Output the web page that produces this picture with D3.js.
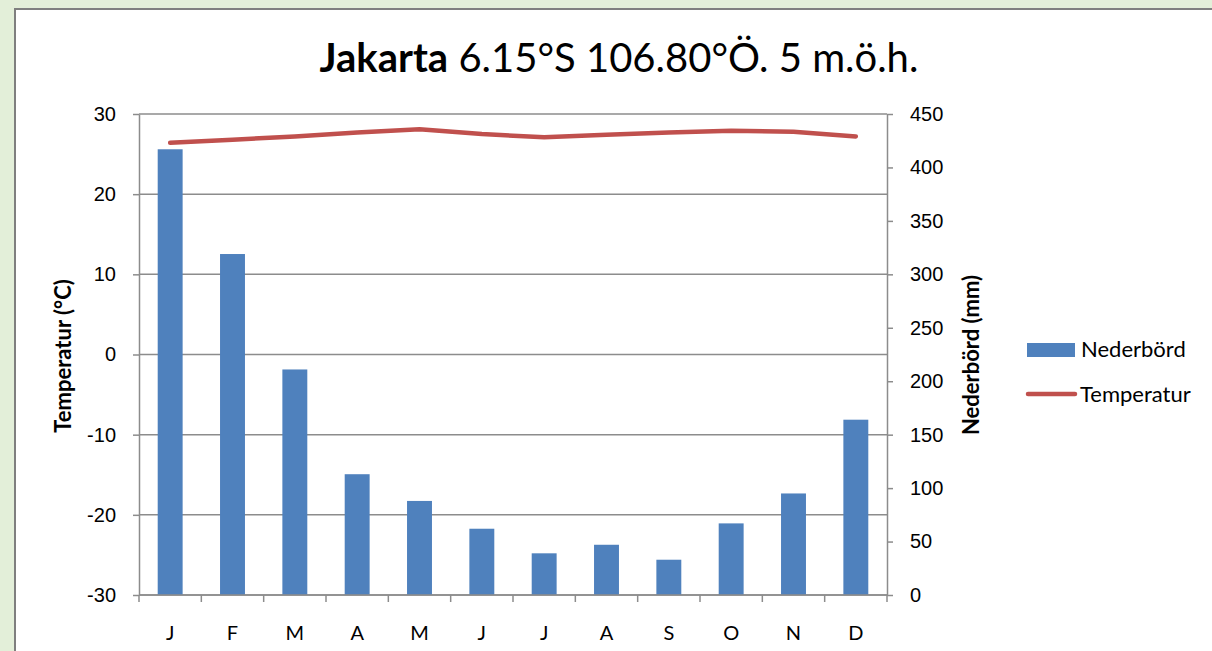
<!DOCTYPE html>
<html>
<head>
<meta charset="utf-8">
<script src="https://cdn.jsdelivr.net/npm/d3@7"></script>
<style>
  html, body { margin: 0; padding: 0; background: #e3efd9; }
  svg { display: block; font-family: Lato, "Open Sans", sans-serif; }
</style>
</head>
<body>
<div id="chart"></div>
<script>
const months = ["J", "F", "M", "A", "M", "J", "J", "A", "S", "O", "N", "D"];
const nederbord = [417, 319, 211, 113, 88, 62, 39, 47, 33, 67, 95, 164];
const temperatur = [26.4, 26.8, 27.2, 27.7, 28.1, 27.5, 27.1, 27.4, 27.7, 27.9, 27.8, 27.2];
const tempTicks = [-30, -20, -10, 0, 10, 20, 30];
const precTicks = [0, 50, 100, 150, 200, 250, 300, 350, 400, 450];

const W = 1212, H = 651;
const margin = {top: 114, right: 325, bottom: 56, left: 139},
      width = W - margin.left - margin.right,
      height = H - margin.top - margin.bottom;

const root = d3.select("#chart")
               .append("svg")
               .attr("width", W)
               .attr("height", H);

// white panel with grey border
root.append("rect")
    .attr("x", 15).attr("y", 9)
    .attr("width", W).attr("height", H)
    .attr("fill", "#fff")
    .attr("stroke", "#7f7f7f")
    .attr("stroke-width", 2);

root.append("text")
    .attr("x", 619)
    .attr("y", 72)
    .attr("text-anchor", "middle")
    .style("font-size", "40px")
    .attr("fill", "#000")
    .call(t => {
      t.append("tspan").style("font-weight", "bold").text("Jakarta");
      t.append("tspan").text(" 6.15°S 106.80°Ö. 5 m.ö.h.");
    });

const svg = root.append("g")
                .attr("transform", `translate(${margin.left},${margin.top})`);

const x = d3.scaleBand()
            .domain(d3.range(months.length))
            .range([0, width])
            .paddingInner(0.6)
            .paddingOuter(0.3);

const xb = d3.scaleBand()
             .domain(d3.range(months.length))
             .range([0, width]);

const yL = d3.scaleLinear().domain([-30, 30]).range([height, 0]);
const yR = d3.scaleLinear().domain([0, 450]).range([height, 0]);

// gridlines
svg.append("g")
   .selectAll("line")
   .data(tempTicks)
   .enter()
   .append("line")
   .attr("x1", 0).attr("x2", width)
   .attr("y1", d => yL(d)).attr("y2", d => yL(d))
   .attr("stroke", "#8c8c8c")
   .attr("stroke-width", 1.5);

// bars
svg.selectAll(".bar")
   .data(nederbord)
   .enter()
   .append("rect")
   .attr("class", "bar")
   .attr("x", (d, i) => x(i))
   .attr("y", d => yR(d))
   .attr("width", x.bandwidth())
   .attr("height", d => height - yR(d))
   .attr("fill", "#4f81bd");

// temperature line
const line = d3.line()
               .x((d, i) => xb(i) + xb.bandwidth() / 2)
               .y(d => yL(d));

svg.append("path")
   .datum(temperatur)
   .attr("d", line)
   .attr("fill", "none")
   .attr("stroke", "#c0504d")
   .attr("stroke-width", 4.5)
   .attr("stroke-linecap", "round")
   .attr("stroke-linejoin", "round");

// axes
const styleAxis = g => {
  g.selectAll("path, line").attr("stroke", "#8c8c8c").attr("stroke-width", 1.5);
  g.selectAll("text").style("font-size", "20px").attr("fill", "#000");
};

svg.append("g")
   .call(d3.axisLeft(yL).tickValues(tempTicks).tickFormat(d => String(d))
           .tickSize(6).tickSizeOuter(0).tickPadding(17))
   .call(styleAxis);

svg.append("g")
   .attr("transform", `translate(${width},0)`)
   .call(d3.axisRight(yR).tickValues(precTicks).tickFormat(d => String(d))
           .tickSize(6).tickSizeOuter(0).tickPadding(17))
   .call(styleAxis);

const xAxis = svg.append("g")
   .attr("transform", `translate(0,${height})`);
xAxis.append("line")
     .attr("x1", 0).attr("x2", width)
     .attr("stroke", "#8c8c8c").attr("stroke-width", 1.5);
xAxis.selectAll(".tk")
     .data(d3.range(months.length + 1))
     .enter()
     .append("line")
     .attr("x1", i => i * xb.step()).attr("x2", i => i * xb.step())
     .attr("y1", 0).attr("y2", 7)
     .attr("stroke", "#8c8c8c").attr("stroke-width", 1.5);
xAxis.selectAll(".lbl")
     .data(months)
     .enter()
     .append("text")
     .attr("x", (d, i) => xb(i) + xb.bandwidth() / 2)
     .attr("y", 45)
     .attr("text-anchor", "middle")
     .style("font-size", "20px")
     .text(d => d);

// axis titles
root.append("text")
    .attr("transform", "translate(71,356) rotate(-90)")
    .attr("text-anchor", "middle")
    .style("font-size", "22px")
    .style("font-weight", "bold")
    .text("Temperatur (°C)");

root.append("text")
    .attr("transform", "translate(979,355) rotate(-90)")
    .attr("text-anchor", "middle")
    .style("font-size", "22px")
    .style("font-weight", "bold")
    .text("Nederbörd (mm)");

// legend
const legend = root.append("g");
legend.append("rect")
      .attr("x", 1027).attr("y", 343)
      .attr("width", 48).attr("height", 14)
      .attr("fill", "#4f81bd");
legend.append("text")
      .attr("x", 1081).attr("y", 357)
      .style("font-size", "22px")
      .text("Nederbörd");
legend.append("line")
      .attr("x1", 1028).attr("x2", 1075)
      .attr("y1", 394).attr("y2", 394)
      .attr("stroke", "#c0504d").attr("stroke-width", 4.5)
      .attr("stroke-linecap", "round");
legend.append("text")
      .attr("x", 1080).attr("y", 402)
      .style("font-size", "22px")
      .text("Temperatur");
</script>
</body>
</html>
